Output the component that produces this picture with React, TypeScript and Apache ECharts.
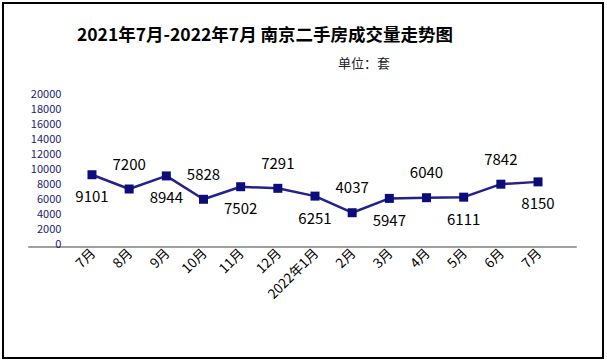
import React, { useEffect, useRef } from "react";
import * as echarts from "echarts";

const categories = ["7月", "8月", "9月", "10月", "11月", "12月", "2022年1月", "2月", "3月", "4月", "5月", "6月", "7月"];
const volumes = [9101, 7200, 8944, 5828, 7502, 7291, 6251, 4037, 5947, 6040, 6111, 7842, 8150];
const labelSides = ["bottom", "top", "bottom", "top", "bottom", "top", "bottom", "top", "bottom", "top", "bottom", "top", "bottom"];
const titleText = "2021年7月-2022年7月 南京二手房成交量走势图";
const unitText = "单位：套";

const FONT = "'Noto Sans CJK SC', 'Noto Sans', sans-serif";

export default function App() {
  const ref = useRef<HTMLDivElement>(null);
  useEffect(() => {
    if (!ref.current) return;
    const chart = echarts.init(ref.current, null, { renderer: "svg" });
    chart.setOption({
      animation: false,
      backgroundColor: "#ffffff",
      textStyle: { fontFamily: FONT },
      title: [
        {
          text: titleText,
          left: 260,
          top: 20,
          textAlign: "center",
          textStyle: { fontSize: 17.5, fontWeight: "bold", color: "#000", fontFamily: FONT },
        },
        {
          text: unitText,
          left: 333,
          top: 51,
          textStyle: { fontSize: 13, fontWeight: "normal", color: "#222", fontFamily: FONT },
        },
      ],
      graphic: [
        {
          type: "rect",
          shape: { x: 3, y: 3, width: 600, height: 355 },
          style: { fill: "none", stroke: "#000", lineWidth: 2 },
          silent: true,
        },
      ],
      grid: [
        { left: 73.4, right: 50.4, top: 93, bottom: 121 },
        { left: 29, right: 31, top: 93, bottom: 117 },
      ],
      xAxis: [
        {
          type: "category",
          gridIndex: 0,
          data: categories,
          boundaryGap: true,
          axisLine: { show: false },
          axisTick: { show: false },
          axisLabel: {
            rotate: 45,
            interval: 0,
            margin: 7,
            fontSize: 13.5,
            color: "#000",
            fontFamily: FONT,
          },
        },
        {
          type: "category",
          gridIndex: 1,
          data: [""],
          axisLine: { show: true, lineStyle: { color: "#a0a0a0", width: 2 } },
          axisTick: { show: false },
          axisLabel: { show: false },
        },
      ],
      yAxis: [
        {
          type: "value",
          gridIndex: 0,
          min: 0,
          max: 20000,
          interval: 2000,
          axisLine: { show: false },
          axisTick: { show: false },
          splitLine: { show: false },
          axisLabel: {
            margin: 12,
            fontSize: 11,
            color: "#1c1c6e",
            fontFamily: FONT,
            formatter: (v: number) => String(v),
          },
        },
        {
          type: "value",
          gridIndex: 1,
          show: false,
        },
      ],
      series: [
        {
          type: "line",
          xAxisIndex: 0,
          yAxisIndex: 0,
          data: volumes.map((v, i) => ({
            value: v,
            label: {
              position: labelSides[i],
              distance: labelSides[i] === "top" ? 14 : 9,
            },
          })),
          symbol: "rect",
          symbolSize: 9,
          lineStyle: { color: "#22228a", width: 2.5 },
          itemStyle: { color: "#0c0c7a" },
          label: {
            show: true,
            fontSize: 15,
            color: "#000",
            fontFamily: FONT,
          },
        },
      ],
    });
    return () => chart.dispose();
  }, []);
  return (
    <div
      ref={ref}
      style={{ position: "fixed", left: 0, top: 0, width: 607, height: 364 }}
    />
  );
}
